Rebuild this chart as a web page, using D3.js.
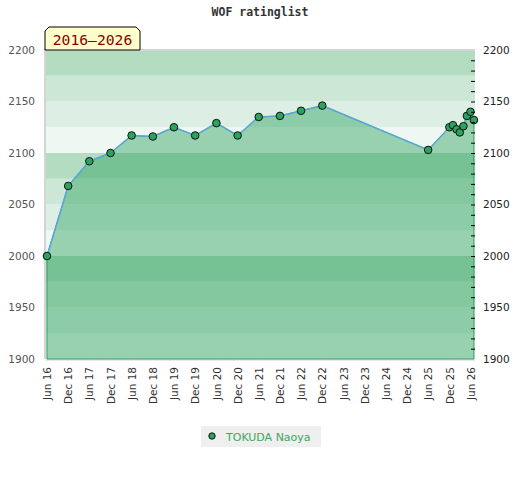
<!DOCTYPE html>
<html>
<head>
<meta charset="utf-8">
<script src="https://cdn.jsdelivr.net/npm/d3@7"></script>
<style>
  body { margin: 0; background: #fff; }
  svg { display: block; }
</style>
</head>
<body>
<svg id="chart" width="520" height="480"></svg>
<script>
// data
const playerName = "TOKUDA Naoya";
const periodLabel = "2016–2026";
const chartTitle = "WOF ratinglist";
const listDates = ["2016-06", "2016-12", "2017-06", "2017-12", "2018-06", "2018-12",
  "2019-06", "2019-12", "2020-06", "2020-12", "2021-06", "2021-12", "2022-06", "2022-12",
  "2025-06", "2025-12", "2026-01", "2026-02", "2026-03", "2026-04", "2026-05", "2026-06", "2026-07"];
const ratings = [2000, 2068, 2092, 2100, 2117, 2116, 2125, 2117, 2129, 2117, 2135, 2136, 2141, 2146,
  2103, 2125, 2127, 2123, 2120, 2126, 2136, 2140, 2132];
const yTicks = [1900, 1950, 2000, 2050, 2100, 2150, 2200];
const bandColors = ["#eef7f1", "#ddeee4", "#cce7d6", "#b3dcc1"];

const width = 520, height = 480;
const margin = { top: 50, right: 45, bottom: 121, left: 45 };

const parse = d3.timeParse("%Y-%m");
const data = listDates.map((d, i) => ({ date: parse(d), rating: ratings[i] }));

const svg = d3.select("#chart");

const x = d3.scaleTime()
  .domain([new Date(2016, 4, 15), new Date(2026, 6, 10)])
  .range([margin.left, width - margin.right]);

const y = d3.scaleLinear()
  .domain([1900, 2200])
  .range([height - margin.bottom, margin.top]);

// background bands, 25 points each
const bands = d3.range(1900, 2200, 25);
svg.append("g")
  .selectAll("rect")
  .data(bands)
  .join("rect")
  .attr("x", margin.left)
  .attr("y", d => y(d + 25))
  .attr("width", width - margin.left - margin.right)
  .attr("height", d => y(d) - y(d + 25))
  .attr("fill", d => bandColors[((d - 1900) / 25) % 4]);

// frame lines
svg.append("path")
  .attr("d", `M${margin.left},${height - margin.bottom}V${margin.top}H${width - margin.right}`)
  .attr("fill", "none")
  .attr("stroke", "#d4d4d4")
  .attr("stroke-width", 2);
svg.append("line")
  .attr("x1", margin.left).attr("x2", width - margin.right)
  .attr("y1", height - margin.bottom + 1).attr("y2", height - margin.bottom + 1)
  .attr("stroke", "#d4d4d4");

// area under the curve
const area = d3.area()
  .x(d => x(d.date))
  .y0(y(1900))
  .y1(d => y(d.rating));
svg.append("path")
  .datum(data)
  .attr("d", area)
  .attr("fill", "#2ca25f")
  .attr("fill-opacity", 0.45)
  .attr("stroke", "#2ca25f")
  .attr("stroke-width", 1);

const line = d3.line()
  .x(d => x(d.date))
  .y(d => y(d.rating));
svg.append("path")
  .datum(data)
  .attr("d", line)
  .attr("fill", "none")
  .attr("stroke", "#5aa6d8")
  .attr("stroke-width", 1.5);

// points
svg.append("g")
  .selectAll("circle")
  .data(data)
  .join("circle")
  .attr("cx", d => x(d.date))
  .attr("cy", d => y(d.rating))
  .attr("r", 3.8)
  .attr("fill", "#2ca25f")
  .attr("stroke", "#111")
  .attr("stroke-width", 1);

// left axis
const yAxisLeft = d3.axisLeft(y).tickValues(yTicks).tickFormat(d3.format("d")).tickSize(0).tickPadding(10);
svg.append("g")
  .attr("transform", `translate(${margin.left}, 0)`)
  .call(yAxisLeft)
  .call(g => g.select(".domain").remove())
  .selectAll("text")
  .attr("font-family", "DejaVu Sans")
  .attr("font-size", "10.5px")
  .attr("fill", "#555");

// right axis with small inside ticks
const rx = width - margin.right;
svg.append("g")
  .attr("transform", `translate(${rx}, 0)`)
  .call(d3.axisLeft(y).tickValues(d3.range(1910, 2200, 10)).tickSize(4).tickFormat(""))
  .call(g => g.select(".domain").remove())
  .selectAll("line")
  .attr("stroke", "#000");
svg.append("g")
  .attr("transform", `translate(${rx}, 0)`)
  .call(d3.axisRight(y).tickValues(yTicks).tickFormat(d3.format("d")).tickSize(0).tickPadding(8))
  .call(g => g.select(".domain").remove())
  .selectAll("text")
  .attr("font-family", "DejaVu Sans")
  .attr("font-size", "10.5px")
  .attr("fill", "#222");

// bottom axis, every 6 months from Jun 16
const xTicks = d3.timeMonth.range(new Date(2016, 5, 1), new Date(2026, 6, 2), 6);
svg.append("g")
  .attr("transform", `translate(0, ${height - margin.bottom})`)
  .call(d3.axisBottom(x).tickValues(xTicks).tickFormat(d3.timeFormat("%b %y")).tickSize(0))
  .call(g => g.select(".domain").remove())
  .selectAll("text")
  .attr("font-family", "DejaVu Sans")
  .attr("font-size", "10.5px")
  .attr("fill", "#333")
  .attr("text-anchor", "end")
  .attr("transform", "rotate(-90)")
  .attr("x", -8)
  .attr("y", 0)
  .attr("dy", "0.35em");

// title
svg.append("text")
  .attr("x", width / 2)
  .attr("y", 16)
  .attr("text-anchor", "middle")
  .attr("font-family", "DejaVu Sans Mono")
  .attr("font-weight", "bold")
  .attr("font-size", "11.5px")
  .attr("fill", "#333")
  .text(chartTitle);

// period label box
const bx = margin.left, by = 27, bw = 95, bh = 23, c = 4;
svg.append("path")
  .attr("d", `M${bx},${by + bh}V${by + c}L${bx + c},${by}H${bx + bw - c}L${bx + bw},${by + c}V${by + bh}Z`)
  .attr("fill", "#ffffcc")
  .attr("stroke", "#000")
  .attr("stroke-width", 1);
svg.append("text")
  .attr("x", bx + bw / 2)
  .attr("y", by + 18)
  .attr("text-anchor", "middle")
  .attr("font-family", "DejaVu Sans Mono")
  .attr("font-size", "14.7px")
  .attr("fill", "#8b0000")
  .text(periodLabel);

// legend
const leg = svg.append("g").attr("transform", "translate(201, 426)");
leg.append("rect")
  .attr("width", 120)
  .attr("height", 21)
  .attr("fill", "#efefef");
leg.append("circle")
  .attr("cx", 11)
  .attr("cy", 10)
  .attr("r", 3.2)
  .attr("fill", "#2ca25f")
  .attr("stroke", "#111");
leg.append("text")
  .attr("x", 25)
  .attr("y", 14.5)
  .attr("font-family", "DejaVu Sans")
  .attr("font-size", "11px")
  .attr("fill", "#3aa860")
  .text(playerName);
</script>
</body>
</html>
